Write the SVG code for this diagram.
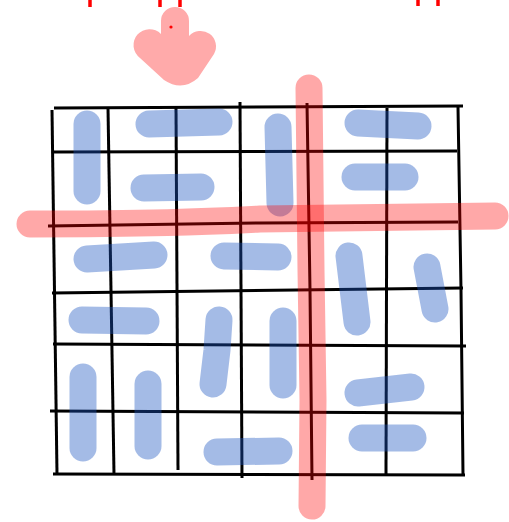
<svg xmlns="http://www.w3.org/2000/svg" width="509" height="522" viewBox="0 0 509 522">
<style>
.g{fill:none;stroke:#000;stroke-width:3;stroke-linecap:butt}
.d{fill:none;stroke:rgb(28,85,192);stroke-opacity:0.4;stroke-width:27;stroke-linecap:round;stroke-linejoin:round}
.r{fill:none;stroke:#ff0000;stroke-opacity:0.34;stroke-width:27;stroke-linecap:round;stroke-linejoin:round}
.t{stroke:#ff0000;stroke-width:3.5}
</style>
<rect width="509" height="522" fill="#fff"/>
<g id="ticks">
<line class="t" x1="90" y1="0" x2="90" y2="7"/>
<line class="t" x1="160" y1="0" x2="160" y2="7"/>
<line class="t" x1="180" y1="0" x2="180" y2="7"/>
<line class="t" x1="418" y1="0" x2="418" y2="6"/>
<line class="t" x1="438" y1="0" x2="438" y2="6"/>
</g>
<g id="hand">
<path fill="#ffaaaa" d="M161,21 A14,14 0 0 1 189,21 L189,36 A15.5,15.5 0 0 1 214,54 L198,78 Q182,92 164,80 L140,58 A16,16 0 1 1 161,34 Z"/>
<circle cx="171" cy="27" r="1.6" fill="#ff0000"/>
</g>
<g id="grid">
<path class="g" d="M54,108 L463,106"/>
<path class="g" d="M52,152 L457,151"/>
<path class="g" d="M48,226 L260,223 L458,222"/>
<path class="g" d="M52,293 L463,288"/>
<path class="g" d="M53,344 L466,346"/>
<path class="g" d="M50,411 L464,413"/>
<path class="g" d="M53,474 L465,475"/>
<path class="g" d="M52,110 L57,474"/>
<path class="g" d="M108,108 L114,474"/>
<path class="g" d="M176,107 L178,470"/>
<path class="g" d="M240,102 L242,478"/>
<path class="g" d="M307,103 L310,290 L312,480"/>
<path class="g" d="M387,108 L386,474"/>
<path class="g" d="M458,107 L461,290 L463,475"/>
</g>
<g id="dominoes">
<path class="d" d="M87,124 L87,191"/>
<path class="d" d="M149,124 L219,122"/>
<path class="d" d="M144,188 L201,187"/>
<path class="d" d="M278,127 L280,203"/>
<path class="d" d="M358,123 L418,126"/>
<path class="d" d="M355,177 L405,177"/>
<path class="d" d="M87,259 L154,255"/>
<path class="d" d="M224,256 L278,257"/>
<path class="d" d="M349,256 L357,322"/>
<path class="d" d="M427,267 L435,309"/>
<path class="d" d="M82,320 L146,321"/>
<path class="d" d="M219,320 L217,350 L213,384"/>
<path class="d" d="M283,321 L283,385"/>
<path class="d" d="M83,377 L83,448"/>
<path class="d" d="M148,384 L148,446"/>
<path class="d" d="M217,452 L279,451"/>
<path class="d" d="M358,393 L411,387"/>
<path class="d" d="M362,438 L413,438"/>
</g>
<g id="red-lines">
<path class="r" d="M30,224 C150,224 200,222 260,219 L495,216"/>
<path class="r" d="M309,88 L311,270 L313,400 L312,506"/>
</g>
</svg>
